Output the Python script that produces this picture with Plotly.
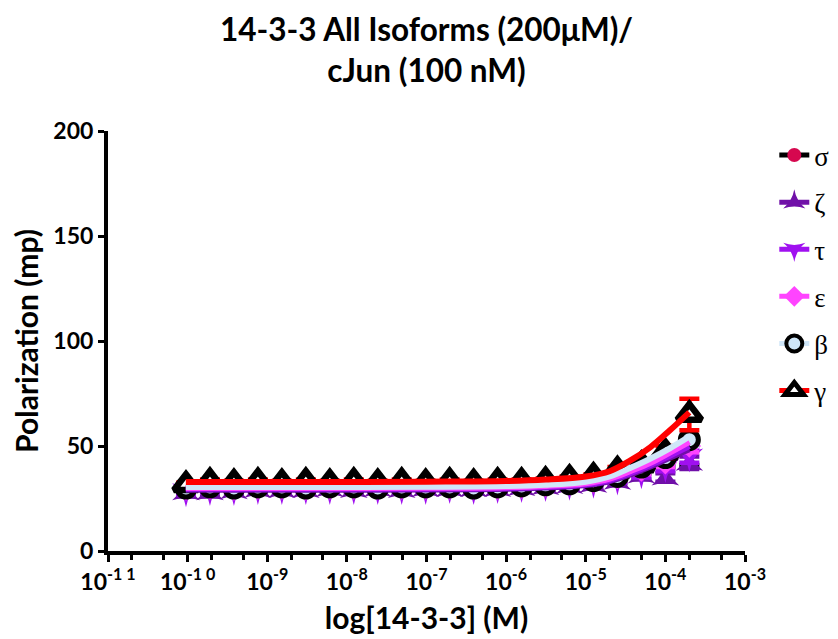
import plotly.graph_objects as go

# ---------------- data ----------------
conc = [9.537e-11, 1.907e-10, 3.815e-10, 7.629e-10, 1.526e-9, 3.052e-9, 6.104e-9,
        1.221e-8, 2.441e-8, 4.883e-8, 9.766e-8, 1.953e-7, 3.906e-7, 7.8125e-7,
        1.5625e-6, 3.125e-6, 6.25e-6, 1.25e-5, 2.5e-5, 5e-5, 1e-4, 2e-4]

series_names = ["σ", "ζ", "τ", "ε", "β", "γ"]

sigma = [30, 30, 29.5, 30, 30, 30, 30, 29.5, 30, 30, 30, 30, 29.5, 30, 30.5, 31, 31.5, 33, 35, 39, 43, 47]
zeta = [28, 28, 28.5, 29, 29, 29, 29.5, 29, 29.5, 29, 29.5, 29.5, 29.5, 29.5, 30, 30.5, 31, 31.5, 33, 36, 35, 42]
tau = [28.5, 29, 29, 29.5, 29.5, 29.5, 29.5, 29.5, 29.5, 29.5, 29.5, 30, 29.5, 30, 30.5, 31, 31.5, 32.5, 34, 37, 40, 45]
epsilon = [29.5, 30, 29.5, 30, 30, 29.5, 30, 30, 30, 30, 30, 30, 30, 30, 30.5, 31, 32, 33, 35, 38.5, 42, 50]
beta = [30, 30.5, 30, 30.5, 30.5, 30, 30.5, 30.5, 30, 30.5, 30.5, 30.5, 30, 30.5, 31, 31.5, 32, 33.5, 35.5, 40, 44.5, 53]
gamma = [31.5, 33, 32.5, 33, 32.5, 33, 32.5, 33, 32.5, 33, 32.5, 33, 32.5, 33, 33, 33.5, 34.5, 35.5, 38.5, 41, 47, 65]

sigma_err = [1, 1, 1, 1, 1, 1, 1, 1, 1, 1, 1, 1, 1, 1, 1, 1, 1, 1, 1.5, 2, 3, 6]
zeta_err = [2, 2, 1.5, 1.5, 1.5, 1, 1, 1, 1, 1, 1, 1, 1, 1, 1, 1, 1, 1, 1.5, 2, 2, 3]
tau_err = [1.5, 1, 1, 1, 1, 1, 1, 1, 1, 1, 1, 1, 1, 1, 1, 1, 1, 1, 1.5, 2, 2, 3]
epsilon_err = [1, 1, 1, 1, 1, 1, 1, 1, 1, 1, 1, 1, 1, 1, 1, 1, 1, 1, 1.5, 2, 2, 3]
beta_err = [1, 1, 1, 1, 1, 1, 1, 1, 1, 1, 1, 1, 1, 1, 1, 1, 1, 1, 1.5, 2, 2, 3]
gamma_err = [1, 1, 1, 1, 1, 1, 1, 1, 1, 1, 1, 1, 1, 1, 1, 1, 1, 1, 1.5, 2, 3, 7.5]

# fitted curves
fit_conc = [9.5e-11, 1e-9, 1e-8, 1e-7, 1e-6, 3.16e-6, 1e-5, 2e-5, 3.6e-5, 6.5e-5, 1.15e-4, 2e-4]
sigma_fit = [30.0, 30.0, 30.0, 30.1, 30.4, 31.0, 32.2, 34.2, 37.5, 41.5, 46.0, 50.5]
zeta_fit = [29.2, 29.2, 29.2, 29.3, 29.6, 30.2, 31.4, 33.3, 36.4, 40.3, 44.5, 48.5]
tau_fit = [29.6, 29.6, 29.6, 29.7, 30.0, 30.6, 31.8, 33.8, 37.0, 41.0, 45.5, 50.0]
epsilon_fit = [30.0, 30.0, 30.0, 30.1, 30.4, 31.0, 32.3, 34.5, 38.0, 42.0, 47.0, 52.0]
beta_fit = [30.5, 30.5, 30.5, 30.6, 30.9, 31.5, 33.0, 35.5, 39.5, 44.0, 49.0, 54.5]
gamma_fit = [32.9, 32.9, 32.9, 33.0, 33.3, 34.0, 35.5, 38.0, 43.0, 49.5, 57.6, 66.0]

x_tickvals = [1e-11, 1e-10, 1e-9, 1e-8, 1e-7, 1e-6, 1e-5, 1e-4, 1e-3]
x_ticktext = ["10<sup>-1 1</sup>", "10<sup>-1 0</sup>", "10<sup>-9</sup>", "10<sup>-8</sup>",
              "10<sup>-7</sup>", "10<sup>-6</sup>", "10<sup>-5</sup>", "10<sup>-4</sup>", "10<sup>-3</sup>"]
y_tickvals = [0, 50, 100, 150, 200]

# ---------------- styles ----------------
styles = {
    "σ": dict(y=sigma, e=sigma_err, f=sigma_fit, symbol="circle", mcolor="#d6084f",
              mline="#d6084f", mlw=0, line="#000000", size=16),
    "ζ": dict(y=zeta, e=zeta_err, f=zeta_fit, symbol="star-triangle-up", mcolor="#7010a8",
              mline="#7010a8", mlw=0, line="#7010a8", size=20),
    "τ": dict(y=tau, e=tau_err, f=tau_fit, symbol="star-triangle-down", mcolor="#a010f0",
              mline="#a010f0", mlw=0, line="#a010f0", size=20),
    "ε": dict(y=epsilon, e=epsilon_err, f=epsilon_fit, symbol="diamond", mcolor="#ff44ff",
              mline="#ff44ff", mlw=0, line="#ff44ff", size=18),
    "β": dict(y=beta, e=beta_err, f=beta_fit, symbol="circle", mcolor="#cfe6f8",
              mline="#000000", mlw=5, line="#cfe6f8", size=18),
    "γ": dict(y=gamma, e=gamma_err, f=gamma_fit, symbol="triangle-up", mcolor="#ffffff",
              mline="#000000", mlw=6.5, line="#ff0000", size=21),
}

fig = go.Figure()

# data points with error bars
for name in series_names:
    s = styles[name]
    fig.add_trace(go.Scatter(
        x=conc, y=s["y"], mode="markers", showlegend=False, name=name,
        marker=dict(symbol=s["symbol"], size=s["size"], color=s["mcolor"],
                    line=dict(color=s["mline"], width=s["mlw"])),
        error_y=dict(type="data", array=s["e"], color=s["line"], thickness=4.5, width=10),
    ))

# fit curves
for name in series_names:
    s = styles[name]
    fig.add_trace(go.Scatter(
        x=fit_conc, y=s["f"], mode="lines", showlegend=False, name=name,
        line=dict(color=s["line"], width=6, shape="spline", smoothing=1.0),
    ))

# legend entries
for i, name in enumerate(series_names):
    s = styles[name]
    fig.add_trace(go.Scatter(
        x=[None], y=[None], mode="lines+markers", name=name, legendgroup=f"g{i}",
        marker=dict(symbol=s["symbol"], size=s["size"] - 2, color=s["mcolor"],
                    line=dict(color=s["mline"], width=max(s["mlw"] - 1, 0))),
        line=dict(color=s["line"], width=5),
    ))

font_main = "Lato, 'Open Sans', sans-serif"

# the page body adds an 8px offset, so margins are reduced by 8px on the left/top
fig.update_layout(
    width=838, height=639,
    margin=dict(l=100, r=98, t=123, b=96),
    paper_bgcolor="white", plot_bgcolor="white",
    title=dict(text="<b>14-3-3 All Isoforms (200μM)/<br>cJun (100 nM)</b>",
               x=0.5, xref="paper", xanchor="center", y=0.948, yanchor="top",
               font=dict(family=font_main, size=31.5, color="black")),
    showlegend=True,
    legend=dict(x=1.046, y=1.0, xanchor="left", yanchor="top",
                font=dict(family="'Liberation Serif', serif", size=27, color="black"),
                tracegroupgap=9, itemwidth=30, bgcolor="rgba(0,0,0,0)"),
    font=dict(family=font_main, color="black"),
)

fig.update_xaxes(
    type="log", range=[-11, -3], automargin=False,
    tickvals=x_tickvals, ticktext=[f"<b>{t}</b>" for t in x_ticktext],
    ticks="outside", ticklen=7, tickwidth=3, tickcolor="black",
    minor=dict(ticks="outside", ticklen=5, tickwidth=2.5, tickcolor="black", showgrid=False),
    showline=True, linewidth=4, linecolor="black",
    showgrid=False, zeroline=False,
    tickfont=dict(family=font_main, size=23, color="black"),
    title=dict(text="<b>log[14-3-3] (M)</b>", font=dict(family=font_main, size=30, color="black"),
               standoff=15),
)

fig.update_yaxes(
    range=[0, 200], automargin=False,
    tickvals=y_tickvals, ticktext=[f"<b>{v}</b>" for v in y_tickvals],
    ticks="outside", ticklen=6, tickwidth=3, tickcolor="black",
    showline=True, linewidth=4, linecolor="black",
    showgrid=False, zeroline=False,
    tickfont=dict(family=font_main, size=23, color="black"),
    title=dict(text="<b>Polarization (mp)</b>", font=dict(family=font_main, size=30, color="black"),
               standoff=8),
)

fig.write_html("out.html")
